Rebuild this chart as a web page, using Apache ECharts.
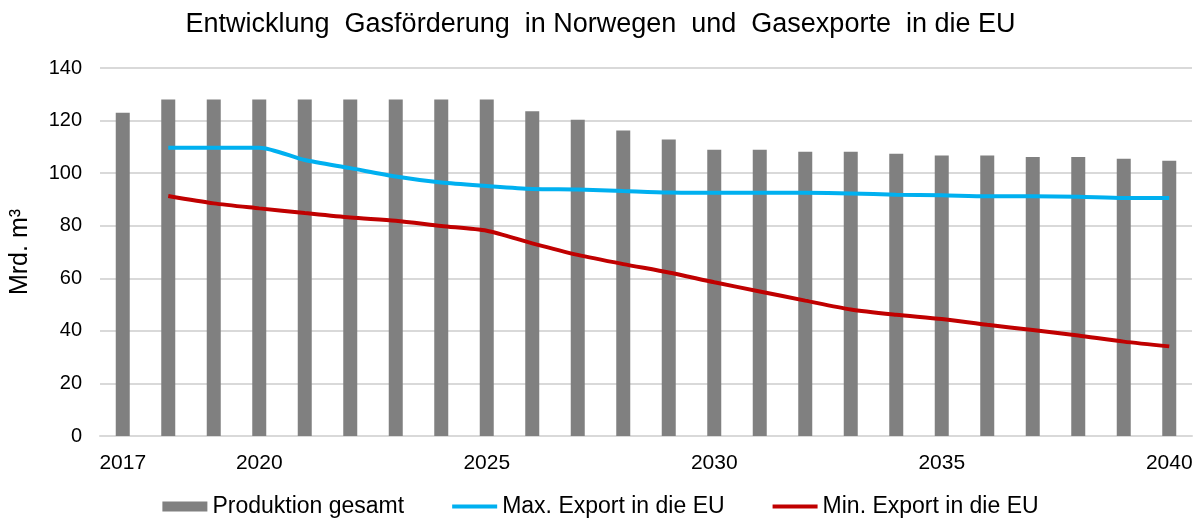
<!DOCTYPE html>
<html>
<head>
<meta charset="utf-8">
<script src="https://cdn.jsdelivr.net/npm/echarts@6/dist/echarts.min.js"></script>
<style>
  html, body { margin: 0; padding: 0; background: #fff; }
  #chart { width: 1201px; height: 520px; }
</style>
</head>
<body>
<div id="chart"></div>
<script>
// years on the category axis
var years = ["2017", "2018", "2019", "2020", "2021", "2022", "2023", "2024", "2025", "2026", "2027", "2028",
    "2029", "2030", "2031", "2032", "2033", "2034", "2035", "2036", "2037", "2038", "2039", "2040"];
var shownYears = ["2017", "2020", "2025", "2030", "2035", "2040"];

// Mrd. m3
var produktion = [123, 128, 128, 128, 128, 128, 128, 128, 128, 123.5, 120.3, 116.2,
    112.8, 108.9, 108.9, 108.1, 108.1, 107.4, 106.7, 106.7, 106.1, 106.1, 105.5, 104.7];
var maxExport = [null, 109.7, 109.7, 109.7, 105, 101.9, 98.7, 96.4, 95.1, 94, 93.8, 93.2,
    92.6, 92.5, 92.5, 92.5, 92.3, 91.8, 91.6, 91.2, 91.2, 91, 90.5, 90.5];
var minExport = [null, 91.3, 88.5, 86.6, 84.8, 83.1, 81.9, 79.9, 78.1, 73.3, 68.9, 65.4,
    62.2, 58.5, 55, 51.5, 48.1, 46.1, 44.5, 42.3, 40.3, 38.2, 35.9, 34.1];

var font = "'Liberation Sans', Arial, sans-serif";
// flat line icon for the legend (4px band inside a 45x10 box)
var lineIcon = "path://M0,0M0,3H45V7H0ZM45,10";

var chart = echarts.init(document.getElementById("chart"));
chart.setOption({
    animation: false,
    title: {
        text: "Entwicklung  Gasförderung  in Norwegen  und  Gasexporte  in die EU",
        left: "center",
        top: 6,
        textStyle: { fontFamily: font, fontSize: 27, fontWeight: "normal", color: "#000" }
    },
    grid: { left: 100, right: 9, top: 68, bottom: 84 },
    legend: {
        top: 490,
        left: "center",
        itemWidth: 45,
        itemHeight: 10,
        itemGap: 48,
        textStyle: { fontFamily: font, fontSize: 23, color: "#000" },
        data: [
            { name: "Produktion gesamt", icon: "rect" },
            { name: "Max. Export in die EU", icon: lineIcon },
            { name: "Min. Export in die EU", icon: lineIcon }
        ]
    },
    xAxis: {
        type: "category",
        data: years,
        axisLine: { lineStyle: { color: "#d9d9d9", width: 2 } },
        axisTick: { show: false },
        axisLabel: {
            interval: function (i, v) { return shownYears.indexOf(v) >= 0; },
            fontFamily: font, fontSize: 21, color: "#000", margin: 17
        }
    },
    yAxis: {
        type: "value",
        min: 0,
        max: 140,
        interval: 20,
        name: "Mrd. m³",
        nameLocation: "middle",
        nameGap: 67,
        nameTextStyle: { fontFamily: font, fontSize: 25, color: "#000" },
        axisLine: { show: false },
        axisTick: { show: false },
        splitLine: { lineStyle: { color: "#d9d9d9", width: 2 } },
        axisLabel: { fontFamily: font, fontSize: 20, color: "#000", margin: 18 }
    },
    series: [
        {
            name: "Produktion gesamt",
            type: "bar",
            data: produktion,
            barWidth: 14,
            itemStyle: { color: "#808080" }
        },
        {
            name: "Max. Export in die EU",
            type: "line",
            data: maxExport,
            smooth: 0.25,
            symbol: "none",
            lineStyle: { color: "#00b0f0", width: 4 },
            itemStyle: { color: "#00b0f0" }
        },
        {
            name: "Min. Export in die EU",
            type: "line",
            data: minExport,
            smooth: 0.25,
            symbol: "none",
            lineStyle: { color: "#c00000", width: 4 },
            itemStyle: { color: "#c00000" }
        }
    ]
});
</script>
</body>
</html>
